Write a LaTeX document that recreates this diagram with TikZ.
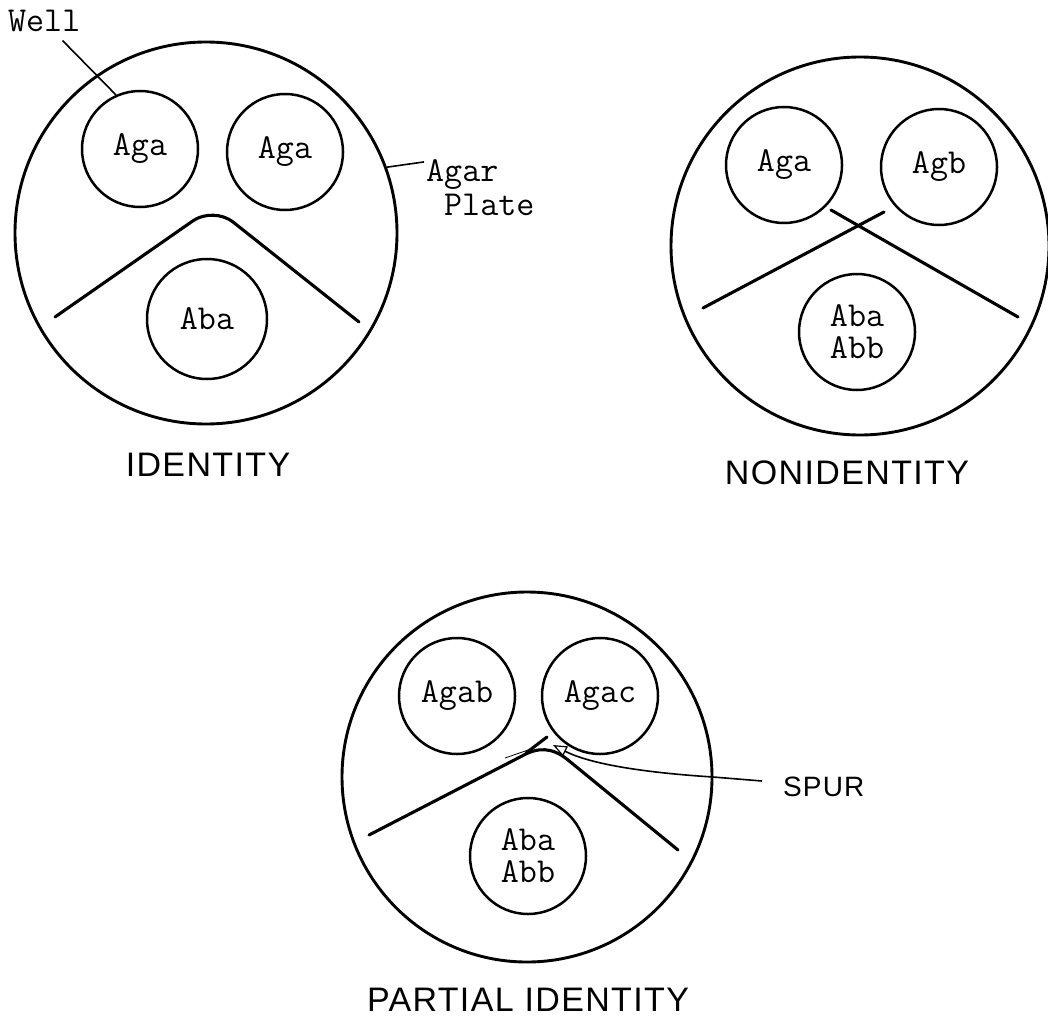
\documentclass[tikz,border=0pt]{standalone}
\usepackage{fontspec}
\setmainfont{Liberation Sans}
\newfontfamily\capf{Liberation Sans}[LetterSpace=4]
\usetikzlibrary{arrows.meta}
\begin{document}
\begin{tikzpicture}[x=1pt,y=-1pt,
  plate/.style={circle, draw, line width=2.9pt, inner sep=0pt},
  well/.style={circle, draw, line width=2.5pt, inner sep=0pt, minimum size=116pt,
     font=\ttfamily\fontsize{35}{32}\selectfont, align=center},
  mono/.style={inner sep=0pt, font=\ttfamily\fontsize{35}{32}\selectfont},
  caption/.style={inner sep=0pt, font=\capf\fontsize{34}{36}\selectfont},
  spurlbl/.style={inner sep=0pt, font=\capf\fontsize{28}{30}\selectfont},
  prec/.style={line width=3.1pt, line cap=round, line join=round},
  leader/.style={line width=1.6pt}]
\useasboundingbox (0,0) rectangle (1048,1019);

% ---------- IDENTITY ----------
\node[plate, minimum size=382pt] (p1) at (206,233) {};
\node[well] (w1a) at (140,149) {Aga};
\node[well] (w1b) at (285,152) {Aga};
\node[well, minimum size=120pt] (w1c) at (207,319) {Aba};
\draw[prec, rounded corners=25pt] (55,317) -- (213.5,206.5) -- (359,322);
\node[mono, anchor=base west] (lwell) at (8,32) {Well};
\draw[leader] ([xshift=-18pt,yshift=-8pt]lwell.south east) -- (w1a.114);
\node[mono, anchor=base west] (lagar) at (426,182) {Agar};
\node[mono, anchor=base west] (lplate) at (444,215) {Plate};
\draw[leader] (p1.20) -- ([xshift=-2pt,yshift=-2pt]lagar.north west);
\node[caption] (c1) at (208,465) {IDENTITY};

% ---------- NONIDENTITY ----------
\node[plate, minimum size=378pt] (p2) at (860,246) {};
\node[well] (w2a) at (784,165) {Aga};
\node[well] (w2b) at (939,167) {Agb};
\node[well] (w2c) at (857,332) {Aba\\Abb};
\draw[prec] (703,308) -- (884,212);
\draw[prec] (831,210) -- (1018,317);
\node[caption] (c2) at (847,473) {NONIDENTITY};

% ---------- PARTIAL IDENTITY ----------
\node[plate, minimum size=370pt] (p3) at (527,777) {};
\node[well] (w3a) at (457,696) {Agab};
\node[well] (w3b) at (600,696) {Agac};
\node[well] (w3c) at (528,856) {Aba\\Abb};
\draw[prec] (369,835) -- (522,756) .. controls (538,747) and (552,747) .. (568,760) -- (678,850);
\draw[prec] (526,753) -- (547,737);
\draw[line width=0.8pt] (505,758) -- (531,749);
\node[spurlbl, anchor=west] (spur) at (783,787) {SPUR};
\coordinate (spurtip) at (553,745);
\draw[line width=1.6pt, -{Triangle[open,length=14pt,width=11pt,line width=1.2pt]}]
  ([xshift=-21pt,yshift=6pt]spur.west) -- (713,777)
  .. controls (650,773) and (592,765) .. (spurtip);
\node[caption] (c3) at (528,1000) {PARTIAL IDENTITY};
\end{tikzpicture}
\end{document}
